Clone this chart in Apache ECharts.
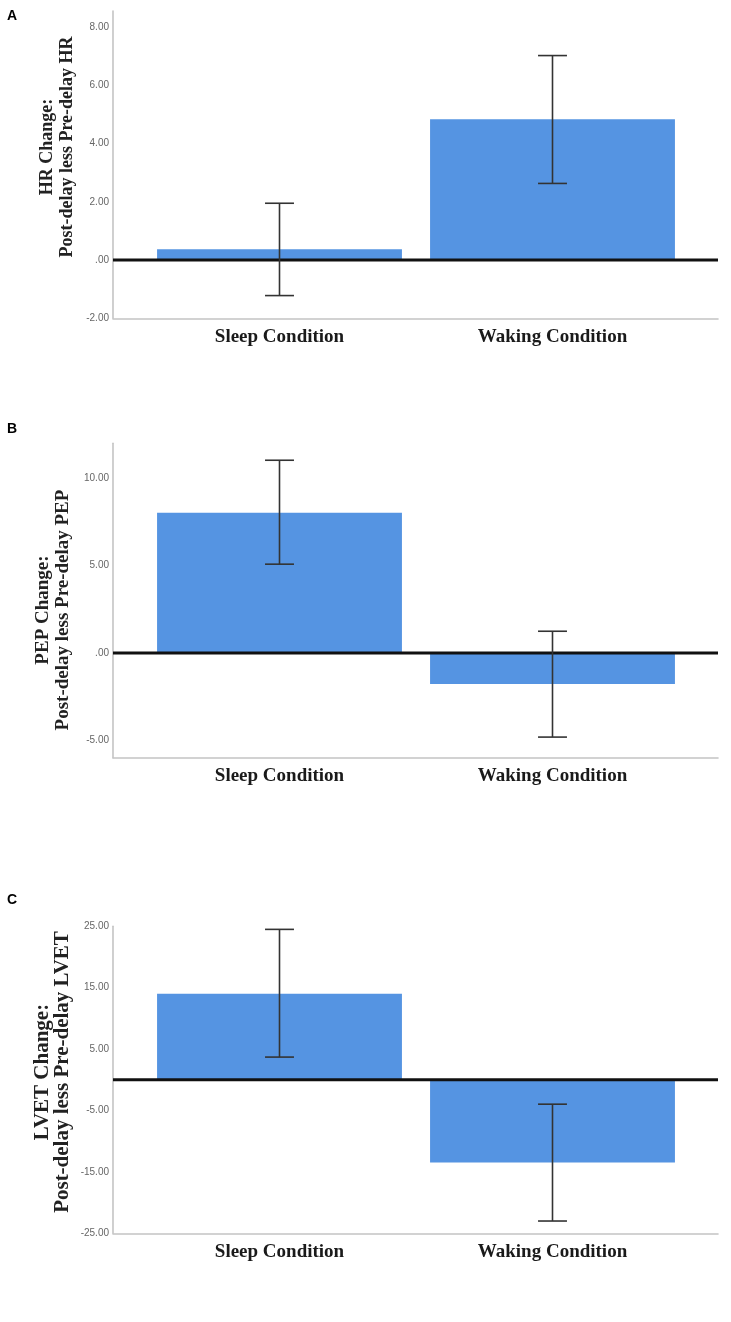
<!DOCTYPE html>
<html>
<head>
<meta charset="utf-8">
<script src="https://cdn.jsdelivr.net/npm/echarts@6/dist/echarts.min.js"></script>
<style>
  html, body { margin: 0; padding: 0; background: #ffffff; }
  #chart { width: 731px; height: 1322px; }
</style>
</head>
<body>
<div id="chart"></div>
<script>
// ---- data ----
const categories = ['Sleep Condition', 'Waking Condition'];

const hrMean = [0.37, 4.83];
const hrLow  = [-1.22, 2.63];
const hrHigh = [1.95, 7.02];

const pepMean = [8.03, -1.78];
const pepLow  = [5.08, -4.82];
const pepHigh = [11.03, 1.24];

const lvetMean = [14.0, -13.45];
const lvetLow  = [3.7, -23.0];
const lvetHigh = [24.5, -3.97];

const hrTicks   = [-2, 0, 2, 4, 6, 8];
const pepTicks  = [-5, 0, 5, 10];
const lvetTicks = [-25, -15, -5, 5, 15, 25];

const hrRange   = [-2, 8.55];
const pepRange  = [-6, 12];
const lvetRange = [-25, 25];

const panelLetters = ['A', 'B', 'C'];
const yTitles = [
  'HR Change:\nPost-delay less Pre-delay HR',
  'PEP Change:\nPost-delay less Pre-delay PEP',
  'LVET Change:\nPost-delay less Pre-delay LVET'
];

// ---- layout ----
const W = 731, H = 1322;
const panels = [
  { top: 11,    bottomY: 318.3,  mean: hrMean,   low: hrLow,   high: hrHigh,   ticks: hrTicks,   range: hrRange,   letterTop: 4,
    titleX: 57, titleY: 147, titleSize: 18 },
  { top: 443.3, bottomY: 757.7,  mean: pepMean,  low: pepLow,  high: pepHigh,  ticks: pepTicks,  range: pepRange,  letterTop: 417,
    titleX: 53, titleY: 610, titleSize: 19 },
  { top: 926.3, bottomY: 1233.3, mean: lvetMean, low: lvetLow, high: lvetHigh, ticks: lvetTicks, range: lvetRange, letterTop: 888,
    titleX: 52.5, titleY: 1072, titleSize: 21 }
];
const frameLeft = 113, frameRight = W - 718;
const barLeft = 143, barRight = W - 689;

const axisGray = '#c4c4c4';
const barBlue = '#5594e2';
const fmt = v => (v === 0 ? '.00' : v.toFixed(2));

const grid = [], xAxis = [], yAxis = [], series = [], title = [], graphic = [];

panels.forEach((p, i) => {
  const fi = 2 * i, bi = 2 * i + 1;
  const bottom = H - p.bottomY;
  grid.push({ left: frameLeft, right: frameRight, top: p.top, bottom: bottom, containLabel: false });
  grid.push({ left: barLeft, right: barRight, top: p.top, bottom: bottom, containLabel: false });

  // frame axes
  xAxis.push({
    gridIndex: fi, type: 'value', min: 0, max: 1,
    axisLine: { show: true, onZero: false, lineStyle: { color: axisGray, width: 1.6 } },
    axisTick: { show: false }, axisLabel: { show: false }, splitLine: { show: false }
  });
  yAxis.push({
    gridIndex: fi, type: 'value', min: p.range[0], max: p.range[1],
    axisLine: { show: true, lineStyle: { color: axisGray, width: 1.6 } },
    axisTick: { show: false },
    splitLine: { show: false },
    axisLabel: {
      customValues: p.ticks, formatter: fmt, margin: 4,
      fontFamily: 'Liberation Sans, Arial, sans-serif', fontSize: 10, color: '#666'
    }
  });

  // bar axes
  xAxis.push({
    gridIndex: bi, type: 'category', data: categories, boundaryGap: true,
    axisLine: { show: false }, axisTick: { show: false }, splitLine: { show: false },
    axisLabel: {
      margin: 9, fontFamily: 'Liberation Serif, Times New Roman, serif',
      fontWeight: 'bold', fontSize: 19, color: '#1a1a1a'
    }
  });
  yAxis.push({
    gridIndex: bi, type: 'value', min: p.range[0], max: p.range[1], show: false,
    splitLine: { show: false }
  });

  series.push({
    type: 'bar', xAxisIndex: bi, yAxisIndex: bi, data: p.mean,
    barCategoryGap: '10.3%', itemStyle: { color: barBlue }, z: 2, silent: true
  });
  // zero reference line spanning the full frame
  series.push({
    type: 'line', xAxisIndex: fi, yAxisIndex: fi, data: [[0, 0], [1, 0]],
    symbol: 'none', lineStyle: { color: '#111', width: 3 }, z: 3, silent: true
  });
  // error bars
  series.push({
    type: 'custom', xAxisIndex: bi, yAxisIndex: bi, z: 4, silent: true,
    data: p.mean.map((m, k) => [k, p.low[k], p.high[k]]),
    encode: { x: 0, y: [1, 2] },
    renderItem: (params, api) => {
      const k = api.value(0);
      const lo = api.coord([k, api.value(1)]);
      const hi = api.coord([k, api.value(2)]);
      const half = api.size([1, 0])[0] * 0.053;
      const st = { stroke: '#333', lineWidth: 1.6 };
      return {
        type: 'group',
        children: [
          { type: 'line', shape: { x1: lo[0], y1: lo[1], x2: hi[0], y2: hi[1] }, style: st },
          { type: 'line', shape: { x1: hi[0] - half, y1: hi[1], x2: hi[0] + half, y2: hi[1] }, style: st },
          { type: 'line', shape: { x1: lo[0] - half, y1: lo[1], x2: lo[0] + half, y2: lo[1] }, style: st }
        ]
      };
    }
  });

  title.push({
    text: panelLetters[i], left: 2, top: p.letterTop,
    textStyle: { fontFamily: 'Liberation Sans, Arial, sans-serif', fontWeight: 'bold', fontSize: 14, color: '#000' }
  });

  graphic.push({
    type: 'text', x: p.titleX, y: p.titleY, rotation: Math.PI / 2, silent: true,
    style: {
      text: yTitles[i], align: 'center', verticalAlign: 'middle',
      fontFamily: 'Liberation Serif, Times New Roman, serif', fontWeight: 'bold',
      fontSize: p.titleSize, lineHeight: 20, fill: '#222'
    }
  });
});

const chart = echarts.init(document.getElementById('chart'), null, { renderer: 'canvas' });
chart.setOption({
  backgroundColor: '#ffffff',
  animation: false,
  title: title,
  grid: grid,
  xAxis: xAxis,
  yAxis: yAxis,
  series: series,
  graphic: graphic
});
</script>
</body>
</html>
